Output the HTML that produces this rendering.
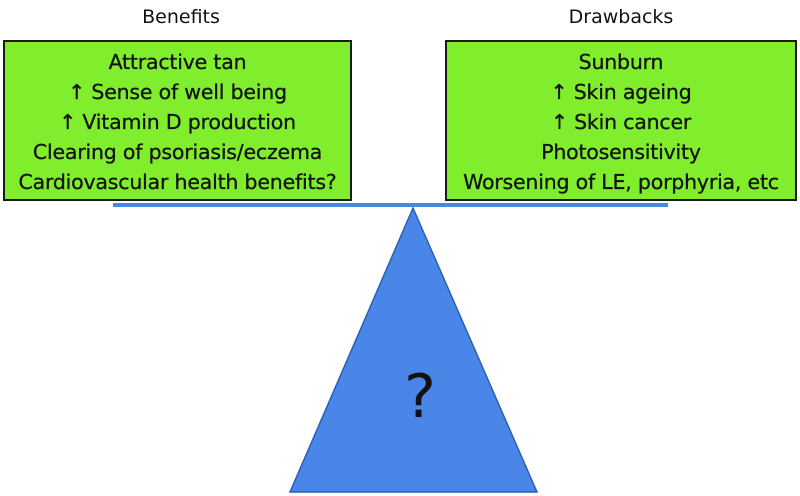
<!DOCTYPE html>
<html><head><meta charset="utf-8"><style>
html,body{margin:0;padding:0;background:#fff;}
body{width:800px;height:496px;position:relative;overflow:hidden;font-family:"DejaVu Sans","Liberation Sans",sans-serif;}
.t{position:absolute;top:6px;font-size:19px;color:#111;text-align:center;}
.box{position:absolute;top:40px;height:161px;background:#80ee2c;border:2px solid #1a1a1a;box-sizing:border-box;text-align:center;font-size:20.5px;line-height:30px;color:#111;padding-top:5px;letter-spacing:-0.2px;-webkit-text-stroke:0.3px #111;}
</style></head><body>
<div class="t" style="left:120px;width:122px;">Benefits</div>
<div class="t" style="left:555px;width:132px;">Drawbacks</div>
<div class="box" style="left:3px;width:349px;">Attractive tan<br>↑ Sense of well being<br>↑ Vitamin D production<br>Clearing of psoriasis/eczema<br>Cardiovascular health benefits?</div>
<div class="box" style="left:445px;width:352px;">Sunburn<br>↑ Skin ageing<br>↑ Skin cancer<br>Photosensitivity<br>Worsening of LE, porphyria, etc</div>
<svg width="800" height="496" style="position:absolute;left:0;top:0">
<rect x="113" y="203" width="555" height="4" fill="#4a86e8"/>
<polygon points="413,208 290,492 537,492" fill="#4a86e8" stroke="#2b5fb3" stroke-width="1.5"/>
<text x="420" y="417" font-size="60" text-anchor="middle" font-family="DejaVu Sans, sans-serif" fill="#111">?</text>
</svg>
</body></html>
